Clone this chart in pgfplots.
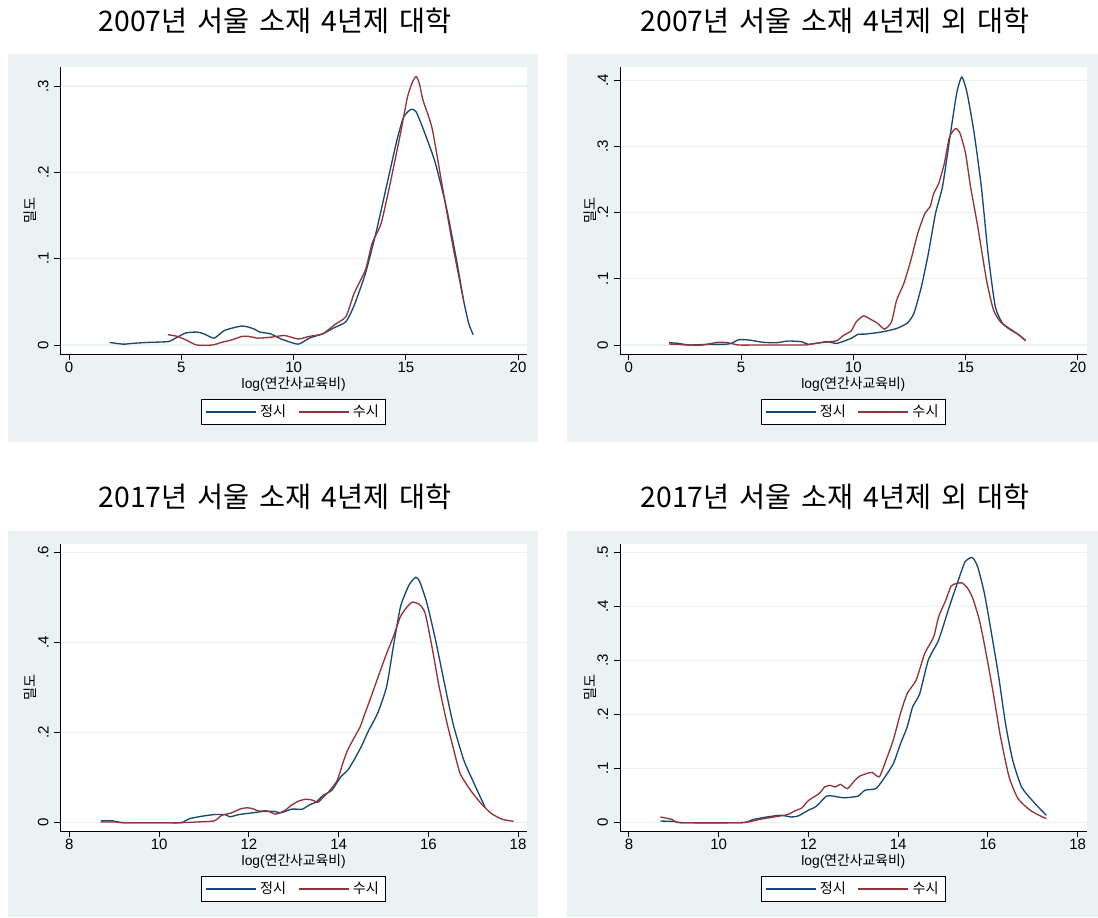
\documentclass[border=0pt]{standalone}
\usepackage{fontspec}
\setmainfont{Liberation Sans}
\newfontfamily\kr{Noto Sans CJK KR}
\usepackage{pgfplots}
\pgfplotsset{compat=1.18}
\definecolor{bgc}{RGB}{234,242,243}
\definecolor{navyc}{RGB}{26,71,111}
\definecolor{maroonc}{RGB}{144,53,59}
\pgfplotsset{panel/.style={
  scale only axis, width=280pt, height=172.2pt, anchor=north west,
  axis background/.style={fill=white},
  axis x line*=bottom, axis y line*=left,
  every non boxed x axis/.append style={x axis line style=-},
  every non boxed y axis/.append style={y axis line style=-},
  axis line style={-, line width=0.6pt, black},
  tick align=outside, major tick length=3.6pt,
  tick style={line width=0.6pt, black},
  ymajorgrids, major grid style={line width=0.8pt, bgc},
  /pgf/number format/assume math mode=true,
  ticklabel style={font=\fontsize{9}{10}\selectfont},
  xticklabel style={anchor=center, yshift=-4.3pt},
  yticklabel style={rotate=90, anchor=south},
  every axis x label/.style={at={([yshift=-18.2pt]axis description cs:0.5,0)}, anchor=center, font=\fontsize{8.3}{10}\selectfont},
  every axis y label/.style={at={([xshift=-18pt]axis description cs:0,0.5)}, rotate=90, anchor=center, font=\kr\fontsize{8.5}{10}\selectfont},
  xlabel={log({\kr 연간사교육비})}, ylabel={밀도},
  legend columns=2,
  legend style={at={([yshift=-26.7pt]axis description cs:0.5,0)}, anchor=north, draw=black, line width=0.6pt, fill=white,
    font=\kr\fontsize{8.5}{10}\selectfont, inner xsep=2pt, inner ysep=1.5pt,
    /tikz/every even column/.append style={column sep=5pt}},
  legend image code/.code={\draw[#1, line width=1pt] (0pt,0pt) -- (30pt,0pt);},
  s1/.style={color=navyc, line width=0.8pt, smooth, tension=0.35},
  s2/.style={color=maroonc, line width=0.8pt, smooth, tension=0.35},
}}
\begin{document}
\begin{tikzpicture}[x=0.6pt,y=-0.6pt]
\path[use as bounding box] (0,0) rectangle (1098,918);
\fill[bgc] (7.7,54) rectangle (538,442);
\fill[bgc] (567,54) rectangle (1098,442);
\fill[bgc] (7.7,531) rectangle (538,917);
\fill[bgc] (567,531) rectangle (1098,917);
\node[font=\kr\fontsize{17}{20}\selectfont] at (275,21) {2007년\hspace{0.35em}서울\hspace{0.35em}소재\hspace{0.35em}4년제\hspace{0.35em}대학};
\node[font=\kr\fontsize{17}{20}\selectfont] at (835,21) {2007년\hspace{0.35em}서울\hspace{0.35em}소재\hspace{0.35em}4년제\hspace{0.35em}외\hspace{0.35em}대학};
\node[font=\kr\fontsize{17}{20}\selectfont] at (275,497) {2017년\hspace{0.35em}서울\hspace{0.35em}소재\hspace{0.35em}4년제\hspace{0.35em}대학};
\node[font=\kr\fontsize{17}{20}\selectfont] at (835,497) {2017년\hspace{0.35em}서울\hspace{0.35em}소재\hspace{0.35em}4년제\hspace{0.35em}외\hspace{0.35em}대학};
\coordinate (p1) at (60.4,67);
\coordinate (p2) at (620,67);
\coordinate (p3) at (60.4,544);
\coordinate (p4) at (620,544);

% Panel 1
\begin{axis}[panel, at={(p1)}, xmin=-0.39, xmax=20.4, ymin=-0.0104, ymax=0.322,
  xtick={0,5,10,15,20}, ytick={0,0.1,0.2,0.3}, yticklabels={0,.1,.2,.3}]
\addplot[s1] coordinates {(1.8,0.003)(2.4,0.001)(2.86,0.002)(3.5,0.003)(4.43,0.004)(4.74,0.008)(5.2,0.014)(5.7,0.015)(6.0,0.013)(6.46,0.008)(6.93,0.017)(7.7,0.022)(8.2,0.019)(8.5,0.015)(8.97,0.013)(9.44,0.007)(10.2,0.001)(10.7,0.008)(11.3,0.013)(11.8,0.02)(12.33,0.027)(12.7,0.046)(13.2,0.083)(13.66,0.129)(14.13,0.183)(14.6,0.237)(14.9,0.264)(15.23,0.273)(15.46,0.27)(15.85,0.245)(16.3,0.212)(16.8,0.16)(17.26,0.098)(17.57,0.052)(17.8,0.025)(18.0,0.012)};
\addplot[s2] coordinates {(4.4,0.012)(4.82,0.010)(5.2,0.006)(5.68,0)(6.38,0)(6.78,0.003)(7.25,0.006)(7.7,0.01)(8.0,0.010)(8.4,0.008)(8.97,0.009)(9.6,0.011)(10.2,0.007)(10.7,0.01)(11.3,0.013)(11.8,0.023)(12.33,0.033)(12.7,0.06)(13.2,0.087)(13.5,0.118)(13.9,0.141)(14.3,0.187)(14.76,0.245)(15.07,0.287)(15.3,0.305)(15.46,0.311)(15.6,0.303)(15.77,0.283)(16.17,0.251)(16.63,0.183)(17.1,0.114)(17.57,0.052)};
\legend{정시,수시}
\end{axis}

% Panel 2
\begin{axis}[panel, at={(p2)}, xmin=-0.39, xmax=20.39, ymin=-0.0136, ymax=0.420,
  xtick={0,5,10,15,20}, ytick={0,0.1,0.2,0.3,0.4}, yticklabels={0,.1,.2,.3,.4}]
\addplot[s1] coordinates {(1.8,0.0035)(2.2,0.0025)(2.7,0)(3.5,0.001)(4.26,0.001)(4.57,0.0025)(4.9,0.008)(5.36,0.0075)(6.0,0.004)(6.6,0.0035)(7.08,0.006)(7.7,0.005)(8.0,0.001)(8.8,0.005)(9.27,0.0025)(9.9,0.01)(10.2,0.016)(10.52,0.0165)(11.15,0.019)(11.46,0.021)(11.93,0.025)(12.4,0.033)(12.7,0.048)(13.03,0.088)(13.34,0.138)(13.66,0.199)(13.97,0.239)(14.28,0.309)(14.6,0.38)(14.83,0.405)(15.07,0.38)(15.38,0.32)(15.7,0.239)(16.0,0.138)(16.32,0.058)(16.64,0.033)(16.95,0.024)(17.34,0.016)(17.68,0.0065)};
\addplot[s2] coordinates {(1.8,0.0015)(2.7,0)(3.3,0)(3.95,0.004)(4.4,0.0035)(4.9,0)(5.8,0)(7.4,0)(7.86,0)(8.33,0.0025)(8.96,0.005)(9.27,0.0065)(9.58,0.015)(9.9,0.021)(10.13,0.035)(10.45,0.044)(10.76,0.039)(11.07,0.033)(11.39,0.024)(11.7,0.035)(11.93,0.068)(12.25,0.093)(12.56,0.128)(12.87,0.169)(13.19,0.199)(13.42,0.209)(13.58,0.229)(13.8,0.244)(14.05,0.274)(14.28,0.314)(14.55,0.327)(14.75,0.32)(15.0,0.289)(15.22,0.239)(15.54,0.179)(15.93,0.098)(16.24,0.053)(16.55,0.035)(16.95,0.025)(17.34,0.016)(17.68,0.0065)};
\legend{정시,수시}
\end{axis}

% Panel 3
\begin{axis}[panel, at={(p3)}, xmin=7.8, xmax=18.2, ymin=-0.0185, ymax=0.619,
  xtick={8,10,12,14,16,18}, ytick={0,0.2,0.4,0.6}, yticklabels={0,.2,.4,.6}]
\addplot[s1] coordinates {(8.7,0.004)(8.96,0.004)(9.2,0)(10.0,0)(10.49,0)(10.68,0.009)(11.0,0.015)(11.23,0.018)(11.47,0.018)(11.58,0.013)(11.78,0.018)(12.09,0.022)(12.33,0.025)(12.56,0.025)(12.72,0.022)(12.95,0.03)(13.19,0.03)(13.34,0.039)(13.5,0.046)(13.66,0.061)(13.85,0.072)(14.05,0.102)(14.2,0.116)(14.36,0.142)(14.52,0.172)(14.67,0.205)(14.87,0.243)(15.07,0.302)(15.22,0.391)(15.38,0.48)(15.57,0.528)(15.72,0.545)(15.81,0.535)(15.97,0.487)(16.16,0.406)(16.36,0.309)(16.55,0.22)(16.79,0.139)(17.02,0.087)(17.26,0.035)};
\addplot[s2] coordinates {(8.7,0.0015)(9.04,0.0015)(9.2,0)(10.45,0)(10.84,0.0015)(11.23,0.004)(11.39,0.016)(11.62,0.022)(11.82,0.031)(11.97,0.033)(12.09,0.031)(12.21,0.026)(12.41,0.026)(12.6,0.019)(12.8,0.027)(12.95,0.039)(13.11,0.048)(13.27,0.052)(13.42,0.05)(13.54,0.045)(13.66,0.057)(13.81,0.072)(13.97,0.094)(14.09,0.131)(14.2,0.161)(14.36,0.191)(14.48,0.213)(14.6,0.246)(14.75,0.287)(14.91,0.332)(15.07,0.376)(15.22,0.413)(15.38,0.458)(15.53,0.48)(15.65,0.49)(15.81,0.484)(15.93,0.465)(16.08,0.391)(16.24,0.302)(16.4,0.228)(16.55,0.168)(16.71,0.109)(16.94,0.072)(17.18,0.042)(17.41,0.02)(17.65,0.0074)(17.9,0.003)};
\legend{정시,수시}
\end{axis}

% Panel 4
\begin{axis}[panel, at={(p4)}, xmin=7.8, xmax=18.2, ymin=-0.0155, ymax=0.516,
  xtick={8,10,12,14,16,18}, ytick={0,0.1,0.2,0.3,0.4,0.5}, yticklabels={0,.1,.2,.3,.4,.5}]
\addplot[s1] coordinates {(8.7,0.003)(9.03,0.002)(9.15,0)(10.52,0)(10.76,0.0056)(11.07,0.0105)(11.38,0.0136)(11.62,0.0105)(11.77,0.0124)(12.0,0.023)(12.17,0.030)(12.4,0.049)(12.56,0.049)(12.79,0.046)(13.1,0.049)(13.26,0.06)(13.5,0.063)(13.65,0.078)(13.89,0.109)(14.05,0.146)(14.2,0.177)(14.32,0.214)(14.48,0.239)(14.67,0.301)(14.9,0.338)(15.14,0.4)(15.34,0.449)(15.49,0.483)(15.65,0.491)(15.77,0.474)(15.92,0.425)(16.08,0.35)(16.24,0.27)(16.39,0.184)(16.55,0.116)(16.75,0.066)(17.02,0.038)(17.3,0.0136)};
\addplot[s2] coordinates {(8.7,0.0105)(8.96,0.006)(9.15,0)(10.52,0)(10.91,0.006)(11.23,0.0105)(11.54,0.015)(11.7,0.022)(11.85,0.027)(12.0,0.041)(12.24,0.054)(12.36,0.066)(12.48,0.069)(12.6,0.066)(12.71,0.071)(12.87,0.063)(13.03,0.078)(13.14,0.086)(13.3,0.091)(13.42,0.093)(13.58,0.085)(13.73,0.116)(13.89,0.153)(14.05,0.202)(14.2,0.239)(14.4,0.264)(14.59,0.313)(14.79,0.344)(14.9,0.381)(15.06,0.412)(15.18,0.438)(15.3,0.443)(15.42,0.444)(15.53,0.436)(15.65,0.418)(15.81,0.375)(15.96,0.313)(16.12,0.239)(16.28,0.159)(16.47,0.085)(16.67,0.0445)(16.94,0.023)(17.18,0.012)(17.3,0.0074)};
\legend{정시,수시}
\end{axis}
\end{tikzpicture}
\end{document}
